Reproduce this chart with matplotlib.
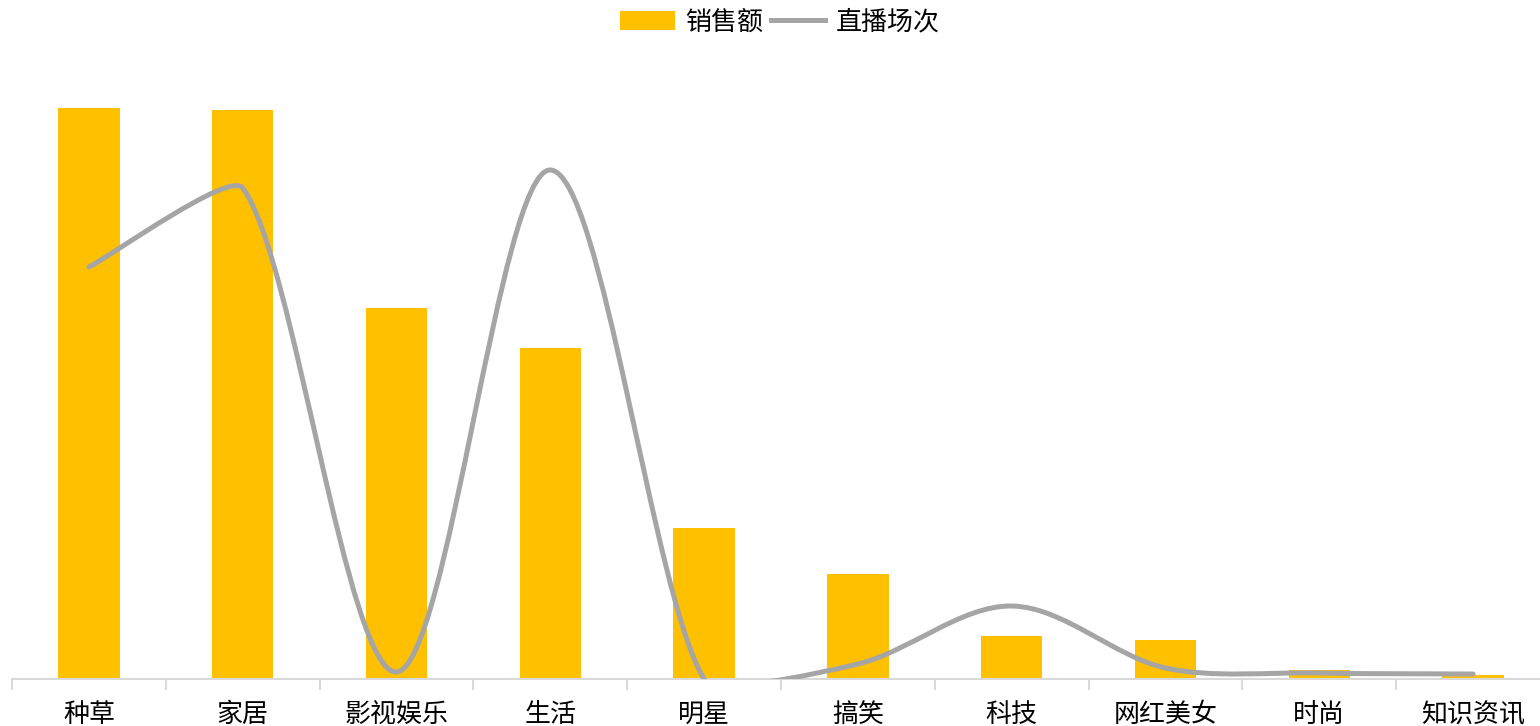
import matplotlib
matplotlib.use("Agg")
import matplotlib.pyplot as plt
from matplotlib.path import Path
from matplotlib.patches import PathPatch
from matplotlib.lines import Line2D
from matplotlib.patches import Patch
import numpy as np

plt.rcParams['font.family'] = ['Noto Sans CJK SC', 'DejaVu Sans']

# data
categories = ["种草", "家居", "影视娱乐", "生活", "明星", "搞笑", "科技", "网红美女", "时尚", "知识资讯"]
sales = [5.71, 5.69, 3.71, 3.31, 1.51, 1.05, 0.43, 0.39, 0.09, 0.04]
sessions = [4120, 4910, 70, 5090, 0, 150, 730, 110, 60, 50]

bar_color = "#FFC000"
line_color = "#A5A5A5"
axis_color = "#D9D9D9"

fig = plt.figure(figsize=(15.4, 7.26), dpi=100)
ax = fig.add_axes([12 / 1540, 47 / 726, 1538 / 1540, 629 / 726])
ax2 = ax.twinx()

x = np.arange(len(categories))
ax.bar(x, sales, width=0.4, color=bar_color, zorder=2)
ax.set_xlim(-0.5, len(categories) - 0.5)
ax.set_ylim(0, 6.29)
ax2.set_ylim(0, 6290)

# Excel-style smoothed line: bezier, tangents shortened next to short chords
pts = np.column_stack([x, sessions]).astype(float)
scale = np.array([153.8, 629 / 6290])  # screen px per data unit
ext = np.vstack([pts[0], pts, pts[-1]])
verts = [tuple(pts[0])]
codes = [Path.MOVETO]
for i in range(len(pts) - 1):
    p0, p1, p2, p3 = ext[i], ext[i + 1], ext[i + 2], ext[i + 3]
    d01 = np.linalg.norm((p1 - p0) * scale)
    d12 = np.linalg.norm((p2 - p1) * scale)
    d23 = np.linalg.norm((p3 - p2) * scale)
    t1 = 2 / 3 * min(0.5, d12 / (d01 + d12)) ** 2 if d01 > 0 else 1 / 6
    t2 = 2 / 3 * min(0.5, d12 / (d12 + d23)) ** 2 if d23 > 0 else 1 / 6
    c1 = p1 + (p2 - p0) * t1
    c2 = p2 - (p3 - p1) * t2
    verts += [tuple(c1), tuple(c2), tuple(p2)]
    codes += [Path.CURVE4] * 3
curve = PathPatch(Path(verts, codes), facecolor="none", edgecolor=line_color,
                  linewidth=3.6, capstyle="round", joinstyle="round", zorder=3)
ax2.add_patch(curve)

# axes styling
for s in ["top", "right", "left"]:
    ax.spines[s].set_visible(False)
    ax2.spines[s].set_visible(False)
ax2.spines["bottom"].set_visible(False)
ax.spines["bottom"].set_color(axis_color)
ax.spines["bottom"].set_linewidth(1.5)
ax.set_yticks([])
ax2.set_yticks([])
ax.set_xticks(x)
ax.set_xticklabels(categories, fontsize=18.7, color="#000000")
ax.set_xticks(np.arange(len(categories) + 1) - 0.5, minor=True)
ax.tick_params(axis="x", which="major", length=0, pad=16)
ax.tick_params(axis="x", which="minor", length=8, width=1.5, color=axis_color)

handles = [Patch(facecolor=bar_color, label="销售额"),
           Line2D([0], [0], color=line_color, linewidth=3.6, label="直播场次")]
fig.legend(handles=handles, loc="center", bbox_to_anchor=(780 / 1540, 1 - 22 / 726),
           ncol=2, frameon=False, fontsize=18.7, handlelength=2.1,
           handletextpad=0.4, columnspacing=0.3)

fig.savefig("out.png", dpi=100)
